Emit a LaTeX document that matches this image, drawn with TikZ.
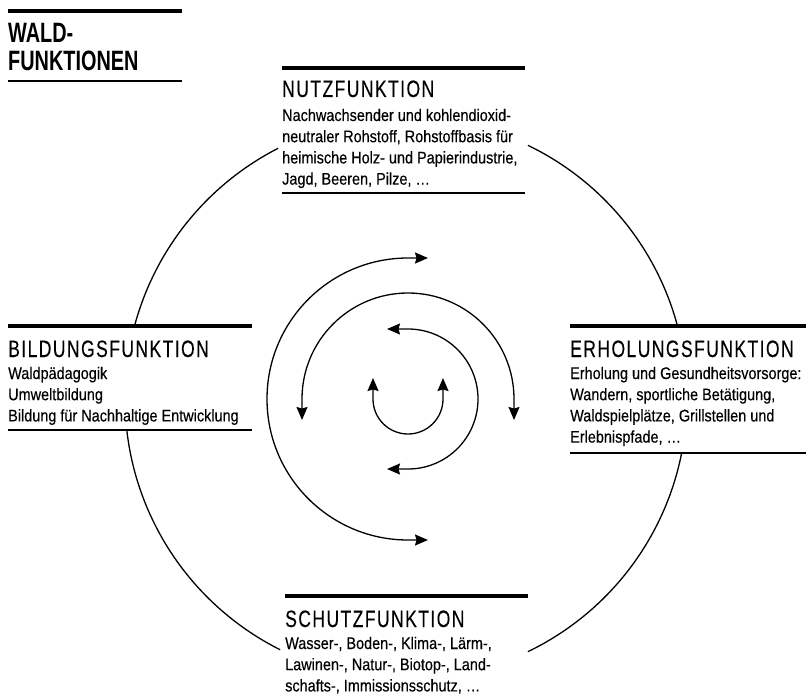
\documentclass[tikz,border=0pt]{standalone}
\usepackage{fontspec}
\setmainfont[FakeStretch=0.86,FakeBold=0.35]{Liberation Sans}
\newfontfamily\ttlfont[FakeStretch=0.74,LetterSpace=6,FakeBold=0.2]{Liberation Sans}
\newfontfamily\hdrfont[FakeStretch=0.71]{Liberation Sans Bold}
\usetikzlibrary{arrows.meta,calc}
\newcommand\blocklines[1]{\begin{tabular}[t]{@{}l@{}}#1\end{tabular}}
\begin{document}
\begin{tikzpicture}[x=1pt,y=1pt,
  thickrule/.style={line width=3.6pt},
  thinrule/.style={line width=1.2pt},
  ring/.style={line width=1.3pt},
  spiral/.style={line width=1.3pt,{Stealth[length=13pt,width=11pt,inset=1.5pt]}-{Stealth[length=13pt,width=11pt,inset=1.5pt]}},
  titletext/.style={anchor=base west,inner sep=0pt,font=\ttlfont\fontsize{23.7}{24}\selectfont},
  bodytext/.style={anchor=base west,inner sep=0pt,font=\fontsize{16.8}{21.2}\selectfont},
  headtext/.style={anchor=base west,inner sep=0pt,font=\hdrfont\fontsize{28}{28.5}\selectfont},
]
\useasboundingbox (0,0) rectangle (806,-698);

% header
\draw[thickrule] (8,-11) -- (182,-11);
\node[headtext] (wald) at (8,-42.5) {\blocklines{WALD-\\FUNKTIONEN}};
\draw[thinrule] (8,-81) -- (182,-81);

% Nutzfunktion
\draw[thickrule] (282,-68) -- (525,-68);
\node[titletext] (nutzT) at (282,-97) {NUTZFUNKTION};
\node[bodytext] (nutzB) at (282,-121) {\blocklines{Nachwachsender und kohlendioxid-\\neutraler Rohstoff, Rohstoffbasis für\\heimische Holz- und Papierindustrie,\\Jagd, Beeren, Pilze, \dots}};
\draw[thinrule] (282,-193) -- (525,-193);

% Bildungsfunktion
\draw[thickrule] (8,-326) -- (252,-326);
\node[titletext] (bildT) at (8,-357) {BILDUNGSFUNKTION};
\node[bodytext] (bildB) at (8,-379) {\blocklines{Waldpädagogik\\Umweltbildung\\Bildung für Nachhaltige Entwicklung}};
\draw[thinrule] (8,-430) -- (252,-430);

% Erholungsfunktion
\draw[thickrule] (570,-326) -- (806,-326);
\node[titletext] (erhT) at (570,-357) {ERHOLUNGSFUNKTION};
\node[bodytext] (erhB) at (570,-379) {\blocklines{Erholung und Gesundheitsvorsorge:\\Wandern, sportliche Betätigung,\\Waldspielplätze, Grillstellen und\\Erlebnispfade, \dots}};
\draw[thinrule] (570,-453) -- (806,-453);

% Schutzfunktion
\draw[thickrule] (285,-596) -- (528,-596);
\node[titletext] (schT) at (285,-627) {SCHUTZFUNKTION};
\node[bodytext] (schB) at (285,-649) {\blocklines{Wasser-, Boden-, Klima-, Lärm-,\\Lawinen-, Natur-, Biotop-, Land-\\schafts-, Immissionsschutz, \dots}};

% big ring
\coordinate (O) at (406,-398.5);
\draw[ring] ($(O)+(117.06:281)$) arc[start angle=117.06,end angle=165.05,radius=281];
\draw[ring] ($(O)+(14.95:281)$) arc[start angle=14.95,end angle=64.3,radius=281];
\draw[ring] ($(O)+(186.44:281)$) arc[start angle=186.44,end angle=243.4,radius=281];
\draw[ring] ($(O)+(295.7:281)$) arc[start angle=295.7,end angle=348.8,radius=281];

% spiral arrows
\coordinate (C) at (408,-399);
\draw[spiral] ($(C)+(-35,21)$) -- ++(0,-21) arc[start angle=180,end angle=360,radius=35] -- ++(0,21);
\draw[spiral] ($(C)+(-21,70)$) -- ++(21,0) arc[start angle=90,end angle=-90,radius=70] -- ++(-21,0);
\draw[spiral] ($(C)+(-106,-21)$) -- ++(0,21) arc[start angle=180,end angle=0,radius=106] -- ++(0,-21);
\draw[spiral] ($(C)+(20,141)$) -- ++(-20,0) arc[start angle=90,end angle=270,radius=141] -- ++(20,0);
\end{tikzpicture}
\end{document}
